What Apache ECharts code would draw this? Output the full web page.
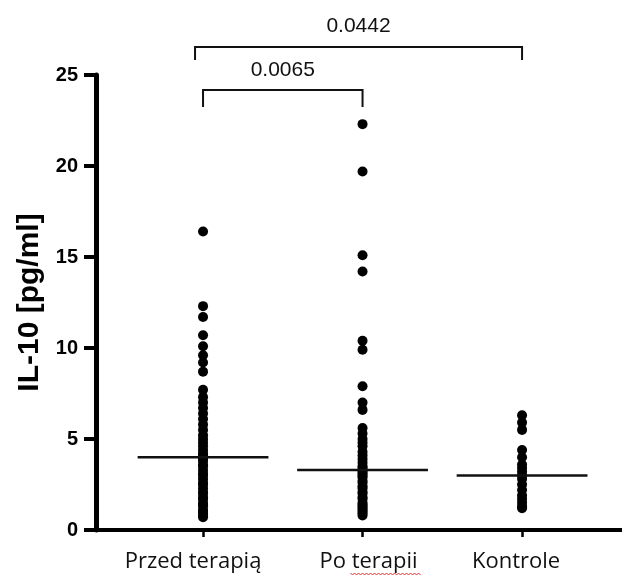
<!DOCTYPE html>
<html>
<head>
<meta charset="utf-8">
<title>IL-10</title>
<script src="https://cdn.jsdelivr.net/npm/echarts@6/dist/echarts.min.js"></script>
<style>
  html, body { margin: 0; padding: 0; background: #fff; }
  #chart { width: 626px; height: 577px; }
</style>
</head>
<body>
<div id="chart"></div>
<script>
// Group names shown along the x axis
const categories = ['Przed terapią', 'Po terapii', 'Kontrole'];

// IL-10 concentrations [pg/ml], one value per subject
const przedTerapia = [
  16.4, 12.3, 11.7, 10.7, 10.1, 9.6, 9.2, 8.7, 7.7, 7.3, 7.0, 6.7, 6.4, 6.1, 5.8, 5.5,
  5.2, 5.0, 4.8, 4.6, 4.4, 4.2, 4.1, 4.0, 3.9, 3.8, 3.6, 3.5, 3.3, 3.1, 3.0, 2.8,
  2.6, 2.5, 2.3, 2.1, 2.0, 1.8, 1.7, 1.5, 1.4, 1.3, 1.1, 1.0, 0.9, 0.8, 0.7
];
const poTerapii = [
  22.3, 19.7, 15.1, 14.2, 10.4, 9.9, 7.9, 7.0, 6.6, 5.6, 5.3, 5.0, 4.8, 4.6, 4.3, 4.1,
  3.9, 3.7, 3.5, 3.4, 3.3, 3.2, 3.1, 3.0, 2.9, 2.7, 2.6, 2.4, 2.3, 2.1, 2.0, 1.8,
  1.7, 1.5, 1.4, 1.3, 1.2, 1.1, 1.0, 0.9, 0.8
];
const kontrole = [
  6.3, 5.9, 5.5, 4.4, 4.0, 3.6, 3.4, 3.2, 3.0, 2.8, 2.5, 2.2, 1.9, 1.7, 1.5, 1.3, 1.2
];

// Median of each group (horizontal bars)
const medians = [4.0, 3.3, 3.0];

// Pairwise comparisons (group indices) and their p-values
const comparisons = [[0, 1], [0, 2]];
const pValues = ['0.0065', '0.0442'];

// y axis range and tick step
const yMin = 0, yMax = 25, yStep = 5;

const groups = [przedTerapia, poTerapii, kontrole];

// Bracket placement relative to the top of the plot (pixels)
const bracketStyle = [
  { dy: 15, leg: 17, dxLeft: 0, textGap: 20 },
  { dy: -28, leg: 13, dxLeft: -8, textGap: 21 }
];

// Horizontal nudge of each group label (pixels; negative = left)
const labelShift = [-10, 6, -6];

const chart = echarts.init(document.getElementById('chart'), null, { renderer: 'canvas' });

const scatterSeries = groups.map((vals, gi) => ({
  type: 'scatter',
  name: categories[gi],
  data: vals.map(v => [gi, v]),
  symbol: 'circle',
  symbolSize: 10,
  itemStyle: { color: '#000', opacity: 1 },
  silent: true,
  z: 3
}));

const medianSeries = {
  type: 'custom',
  data: medians.map((m, i) => [i, m]),
  renderItem: function (params, api) {
    const i = api.value(0), m = api.value(1);
    const a = api.coord([i - 0.41, m]);
    const b = api.coord([i + 0.41, m]);
    return {
      type: 'line',
      shape: { x1: a[0], y1: a[1], x2: b[0], y2: b[1] },
      style: { stroke: '#111', lineWidth: 2.5 }
    };
  },
  silent: true,
  z: 4
};

const bracketSeries = {
  type: 'custom',
  clip: false,
  data: comparisons.map((c, k) => [c[0], c[1], k]),
  renderItem: function (params, api) {
    const a = api.value(0), b = api.value(1), k = api.value(2);
    const s = bracketStyle[k];
    const top = api.coord([a, yMax])[1];
    const x1 = api.coord([a, yMax])[0] + s.dxLeft;
    const x2 = api.coord([b, yMax])[0];
    const y = top + s.dy;
    return {
      type: 'group',
      children: [
        {
          type: 'polyline',
          shape: { points: [[x1, y + s.leg], [x1, y], [x2, y], [x2, y + s.leg]] },
          style: { stroke: '#111', lineWidth: 2, fill: null }
        },
        {
          type: 'text',
          style: {
            text: pValues[k],
            x: (x1 + x2) / 2,
            y: y - s.textGap,
            textAlign: 'center',
            textVerticalAlign: 'middle',
            verticalAlign: 'middle',
            font: '21px "Liberation Sans", Arial, sans-serif',
            fill: '#111'
          }
        }
      ]
    };
  },
  silent: true,
  z: 5
};

// Rich styles that offset each group label sideways via padding
const labelRich = {};
labelShift.forEach((d, i) => {
  labelRich['g' + i] = {
    fontSize: 22,
    color: '#111',
    fontFamily: '"Open Sans", "Noto Sans", sans-serif',
    padding: d < 0 ? [0, -2 * d, 0, 0] : [0, 0, 0, 2 * d]
  };
});

// Wavy red proofing underline below "terapii"
function wavyUnderline(x0, x1, y) {
  const pts = [];
  let up = true;
  for (let x = x0; x <= x1; x += 2) {
    pts.push([x, y + (up ? -1 : 1)]);
    up = !up;
  }
  return pts;
}

chart.setOption({
  animation: false,
  backgroundColor: '#fff',
  grid: { left: 96, right: 6, top: 75, bottom: 47, containLabel: false, outerBoundsMode: 'none' },
  xAxis: {
    type: 'value',
    min: -0.671,
    max: 2.614,
    splitLine: { show: false },
    axisLine: { show: true, onZero: false, lineStyle: { color: '#000', width: 4, cap: 'square' } },
    axisTick: { show: true, customValues: [0, 1, 2], length: 7, lineStyle: { color: '#000', width: 2.5 } },
    axisLabel: {
      show: true,
      customValues: [0, 1, 2],
      formatter: v => {
        const i = Math.round(v);
        return '{g' + i + '|' + categories[i] + '}';
      },
      rich: labelRich,
      margin: 21,
      color: '#111',
      fontSize: 22,
      fontFamily: '"Open Sans", "Noto Sans", sans-serif'
    }
  },
  yAxis: {
    type: 'value',
    min: yMin,
    max: yMax,
    interval: yStep,
    name: 'IL-10 [pg/ml]',
    nameLocation: 'middle',
    nameGap: 50,
    nameTextStyle: {
      color: '#000',
      fontSize: 30,
      fontWeight: 'bold',
      fontFamily: '"Liberation Sans", Arial, sans-serif'
    },
    splitLine: { show: false },
    axisLine: { show: true, onZero: false, lineStyle: { color: '#000', width: 5 } },
    axisTick: { show: true, length: 12, lineStyle: { color: '#000', width: 4 } },
    axisLabel: {
      margin: 18,
      color: '#000',
      fontSize: 20,
      fontWeight: 'bold',
      fontFamily: '"Liberation Sans", Arial, sans-serif'
    }
  },
  series: [...scatterSeries, medianSeries, bracketSeries]
});

// Place the proofing underline under the word "terapii" of the middle label
const tickX = chart.convertToPixel({ xAxisIndex: 0 }, 1);
chart.setOption({
  graphic: [{
    type: 'polyline',
    shape: { points: wavyUnderline(tickX - 12, tickX + 58, 574) },
    style: { stroke: '#e03030', lineWidth: 1, fill: null },
    silent: true
  }]
});
</script>
</body>
</html>
